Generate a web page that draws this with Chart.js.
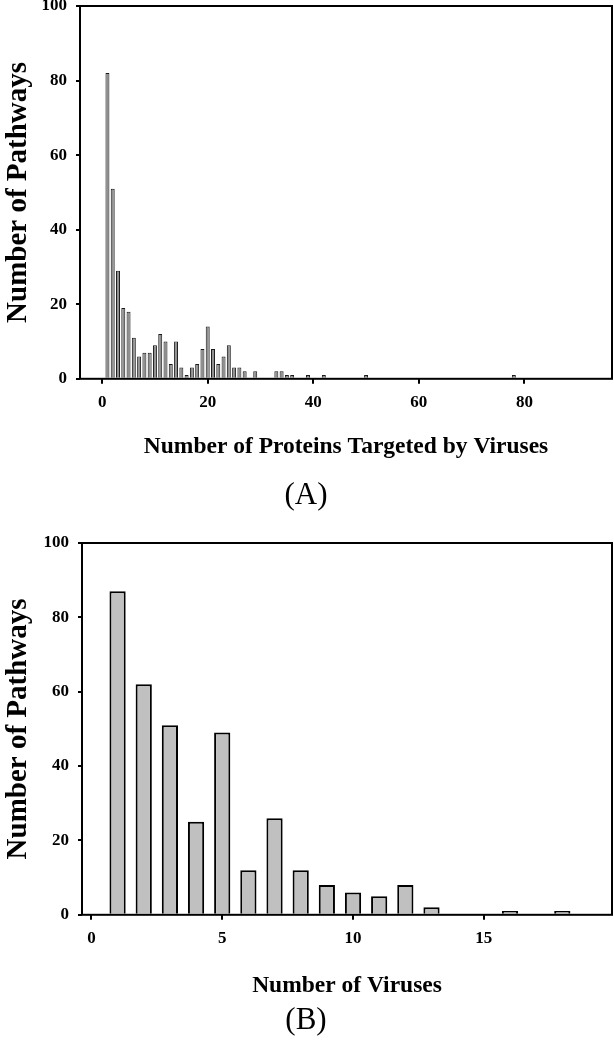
<!DOCTYPE html>
<html>
<head>
<meta charset="utf-8">
<script src="https://cdn.jsdelivr.net/npm/chart.js@4.4.1/dist/chart.umd.min.js"></script>
<style>
  body { margin: 0; background: #fff; }
  canvas { display: block; }
</style>
</head>
<body>
<canvas id="chartA" width="614" height="525"></canvas>
<canvas id="chartB" width="614" height="525"></canvas>
<script>
// (A) pathways by number of proteins targeted
var proteinBins = [1, 2, 3, 4, 5, 6, 7, 8, 9, 10, 11, 12, 13, 14, 15, 16, 17, 18, 19, 20,
  21, 22, 23, 24, 25, 26, 27, 29, 33, 34, 35, 36, 39, 42, 50, 78];
var proteinPathways = [82, 51, 29, 19, 18, 11, 6, 7, 7, 9, 12, 10, 4, 10, 3, 1, 3, 4, 8, 14,
  8, 4, 6, 9, 3, 3, 2, 2, 2, 2, 1, 1, 1, 1, 1, 1];

// (B) pathways by number of viruses
var virusBins = [1, 2, 3, 4, 5, 6, 7, 8, 9, 10, 11, 12, 13, 16, 18];
var virusPathways = [87, 62, 51, 25, 49, 12, 26, 12, 8, 6, 5, 8, 2, 1, 1];

var yTicks = [0, 20, 40, 60, 80, 100];
var xTicksA = [0, 20, 40, 60, 80];
var xTicksB = [0, 5, 10, 15];

var serif = "'Liberation Serif', 'Times New Roman', serif";

// box round the plot area
var framePlugin = {
  id: 'frame',
  afterDatasetsDraw: function(chart) {
    var a = chart.chartArea, ctx = chart.ctx;
    ctx.save();
    ctx.strokeStyle = '#000';
    ctx.lineWidth = 2;
    ctx.strokeRect(a.left, a.top, a.right - a.left, a.bottom - a.top);
    ctx.restore();
  }
};

function toPoints(xs, ys) {
  return xs.map(function(x, i) { return { x: x, y: ys[i] }; });
}

function makeChart(id, s) {
  return new Chart(document.getElementById(id), {
    type: 'bar',
    data: {
      datasets: [{
        data: toPoints(s.bins, s.values),
        backgroundColor: s.fill,
        borderColor: s.line,
        borderWidth: s.lineWidth,
        categoryPercentage: 1,
        barPercentage: s.barPct
      }]
    },
    options: {
      responsive: false,
      animation: false,
      layout: { padding: { top: s.padTop, right: 2, left: 0, bottom: 0 } },
      plugins: {
        legend: { display: false },
        tooltip: { enabled: false },
        title: {
          display: true,
          position: 'bottom',
          text: s.panel,
          color: '#000',
          font: { family: serif, size: 31, weight: 'normal' },
          padding: { top: 0, bottom: 11 }
        }
      },
      scales: {
        x: {
          type: 'linear',
          offset: false,
          min: s.xMin,
          max: s.xMax,
          afterBuildTicks: function(scale) {
            scale.ticks = s.xTicks.map(function(v) { return { value: v }; });
          },
          afterFit: function(scale) {
            scale.height = s.xAxisHeight;
            scale.paddingLeft = 0;
            scale.paddingRight = 0;
          },
          grid: { offset: false, drawOnChartArea: false, drawTicks: true, tickLength: 5, color: '#000', lineWidth: 2 },
          border: { display: false },
          ticks: { color: '#000', padding: 9, font: { family: serif, size: 17, weight: 'bold' } },
          title: {
            display: true,
            text: s.xTitle,
            color: '#000',
            font: { family: serif, size: 23.5, weight: 'bold' },
            padding: { top: 0, bottom: s.xTitlePad }
          }
        },
        y: {
          min: 0,
          max: 100,
          afterBuildTicks: function(scale) {
            scale.ticks = yTicks.map(function(v) { return { value: v }; });
          },
          afterFit: function(scale) {
            scale.width = s.yAxisWidth;
            scale.paddingTop = 0;
            scale.paddingBottom = 0;
          },
          grid: { drawOnChartArea: false, drawTicks: true, tickLength: 4, color: '#000', lineWidth: 2 },
          border: { display: false },
          ticks: { color: '#000', padding: 9, font: { family: serif, size: 17, weight: 'bold' } },
          title: {
            display: true,
            text: 'Number of Pathways',
            color: '#000',
            font: { family: serif, size: 29, weight: 'bold' },
            padding: { top: 1, bottom: 0 }
          }
        }
      }
    },
    plugins: [framePlugin]
  });
}

makeChart('chartA', {
  bins: proteinBins, values: proteinPathways,
  fill: '#8f8f8f', line: '#1a1a1a', lineWidth: 1, barPct: 0.75,
  xMin: -4.2, xMax: 96.6, xTicks: xTicksA,
  xTitle: 'Number of Proteins Targeted by Viruses', panel: '(A)',
  padTop: 6, xAxisHeight: 98, xTitlePad: 16, yAxisWidth: 80
});

makeChart('chartB', {
  bins: virusBins, values: virusPathways,
  fill: '#c0c0c0', line: '#000', lineWidth: 2, barPct: 0.62,
  xMin: -0.36, xMax: 19.9, xTicks: xTicksB,
  xTitle: 'Number of Viruses', panel: '(B)',
  padTop: 18, xAxisHeight: 87, xTitlePad: 2, yAxisWidth: 82
});
</script>
</body>
</html>
